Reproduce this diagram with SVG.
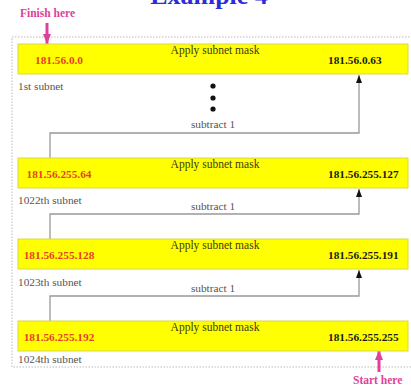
<svg xmlns="http://www.w3.org/2000/svg" width="411" height="386" viewBox="0 0 411 386">
<defs>
<style>
.t{font-family:"Liberation Serif","Times New Roman",serif}
.box{fill:#ffff00;stroke:#d8d84a;stroke-width:1}
.src{font-size:11.3px;font-weight:bold;fill:#1a1a1a}
.dst{font-size:11.3px;font-weight:bold;fill:#e8402a}
.mask{font-size:11.5px;fill:#3a3a20}
.lbl{font-size:11.3px;fill:#555}
.sub{font-size:11.3px;fill:#555}
.ln{stroke:#333;stroke-width:1;fill:none}
.gl{stroke:#999;stroke-width:1.3;fill:none}
.pink{font-size:11.5px;font-weight:bold;fill:#e0409a}
</style>
<marker id="ah" viewBox="0 0 8 6" refX="8" refY="3" markerWidth="8" markerHeight="6" orient="auto" markerUnits="userSpaceOnUse">
<path d="M0,0 L8,3 L0,6 z" fill="#111"/>
</marker>
<marker id="ph" viewBox="0 0 10 8" refX="10" refY="4" markerWidth="10" markerHeight="8" orient="auto" markerUnits="userSpaceOnUse">
<path d="M0,0 L10,4 L0,8 z" fill="#e0409a"/>
</marker>
</defs>
<rect width="411" height="386" fill="#ffffff"/>
<text class="t" x="209" y="3.5" text-anchor="middle" font-size="26" font-weight="bold" fill="#2c2cdc">Example 4</text>
<rect x="12" y="37" width="402" height="330" fill="none" stroke="#bbb" stroke-width="1" stroke-dasharray="1.5,1.5"/>

<g id="connectors">
<path class="gl" d="M50,158 V133 H359 V75" marker-end="url(#ah)"/>
<path class="gl" d="M50,239 V214 H359 V189" marker-end="url(#ah)"/>
<path class="gl" d="M50,321 V296 H359 V270" marker-end="url(#ah)"/>
<line class="ln" x1="323" y1="60" x2="104" y2="60" marker-end="url(#ah)"/>
<line class="ln" x1="323" y1="174" x2="104" y2="174" marker-end="url(#ah)"/>
<line class="ln" x1="323" y1="255" x2="104" y2="255" marker-end="url(#ah)"/>
<line class="ln" x1="323" y1="337" x2="104" y2="337" marker-end="url(#ah)"/>
<line x1="47" y1="23" x2="47" y2="44" stroke="#e0409a" stroke-width="3" marker-end="url(#ph)"/>
<line x1="379" y1="372" x2="379" y2="350" stroke="#e0409a" stroke-width="3" marker-end="url(#ph)"/>
</g>

<g id="subnet1">
<rect class="box" x="18" y="44" width="390" height="30"/>
<text class="t mask" x="215" y="54" text-anchor="middle">Apply subnet mask</text>
<text class="t dst" x="59" y="64" text-anchor="middle">181.56.0.0</text>
<text class="t src" x="328" y="64">181.56.0.63</text>
<text class="t lbl" x="18" y="90">1st subnet</text>
</g>
<g id="dots">
<circle cx="213" cy="86" r="2.6" fill="#111"/>
<circle cx="213" cy="98" r="2.6" fill="#111"/>
<circle cx="213" cy="109" r="2.6" fill="#111"/>
</g>
<text class="t sub" x="213" y="128" text-anchor="middle">subtract 1</text>

<g id="subnet1022">
<rect class="box" x="18" y="158" width="390" height="30"/>
<text class="t mask" x="215" y="168" text-anchor="middle">Apply subnet mask</text>
<text class="t dst" x="59" y="178" text-anchor="middle">181.56.255.64</text>
<text class="t src" x="328" y="178">181.56.255.127</text>
<text class="t lbl" x="18" y="204">1022th subnet</text>
</g>
<text class="t sub" x="213" y="210" text-anchor="middle">subtract 1</text>

<g id="subnet1023">
<rect class="box" x="18" y="239" width="390" height="30"/>
<text class="t mask" x="215" y="249" text-anchor="middle">Apply subnet mask</text>
<text class="t dst" x="59" y="259" text-anchor="middle">181.56.255.128</text>
<text class="t src" x="328" y="259">181.56.255.191</text>
<text class="t lbl" x="18" y="286">1023th subnet</text>
</g>
<text class="t sub" x="213" y="292" text-anchor="middle">subtract 1</text>

<g id="subnet1024">
<rect class="box" x="18" y="321" width="390" height="30"/>
<text class="t mask" x="215" y="331" text-anchor="middle">Apply subnet mask</text>
<text class="t dst" x="59" y="341" text-anchor="middle">181.56.255.192</text>
<text class="t src" x="328" y="341">181.56.255.255</text>
<text class="t lbl" x="18" y="363">1024th subnet</text>
</g>

<g id="finish">
<text class="t pink" x="20" y="17">Finish here</text>
</g>
<g id="start">
<text class="t pink" x="353" y="384">Start here</text>
</g>
</svg>
